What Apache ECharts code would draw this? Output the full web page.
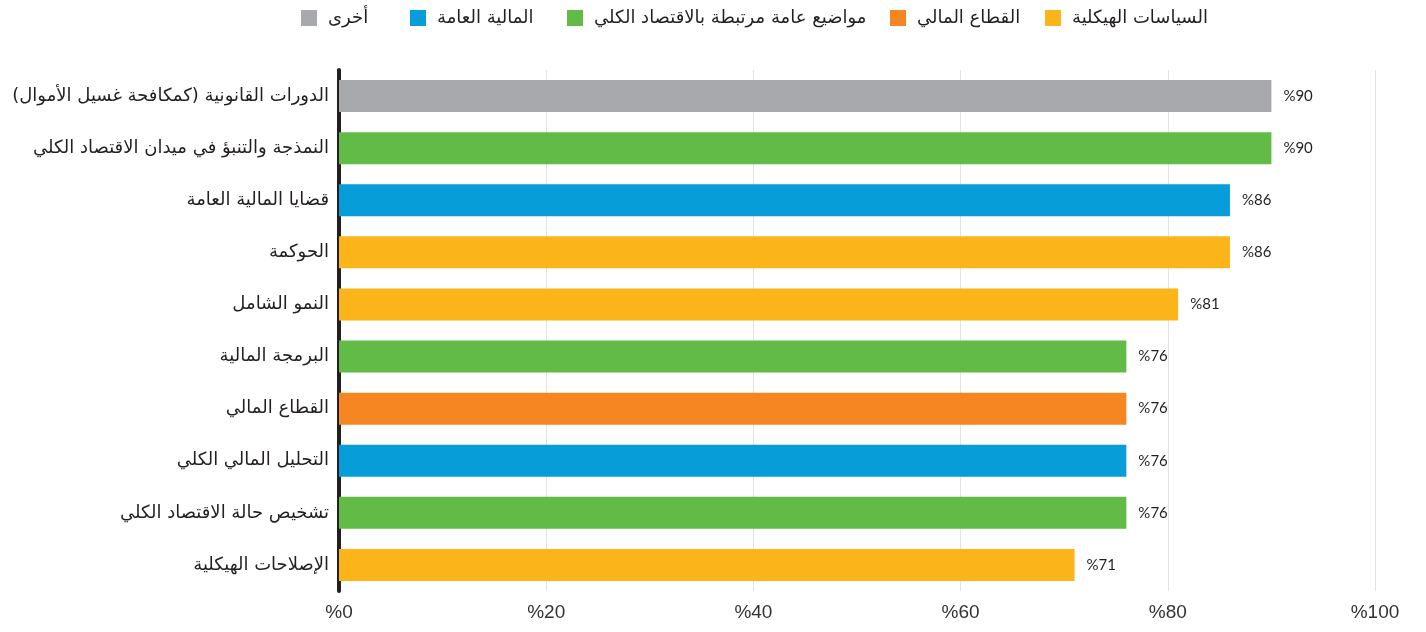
<!DOCTYPE html>
<html>
<head>
<meta charset="utf-8">
<script src="https://cdn.jsdelivr.net/npm/echarts@6/dist/echarts.min.js"></script>
<style>
  html, body { margin: 0; padding: 0; background: #fff; }
  #chart { width: 1426px; height: 632px; }
</style>
</head>
<body>
<div id="chart"></div>
<script>
// categories, top to bottom
var topics = [
  'الدورات القانونية (كمكافحة غسيل الأموال)',
  'النمذجة والتنبؤ في ميدان الاقتصاد الكلي',
  'قضايا المالية العامة',
  'الحوكمة',
  'النمو الشامل',
  'البرمجة المالية',
  'القطاع المالي',
  'التحليل المالي الكلي',
  'تشخيص حالة الاقتصاد الكلي',
  'الإصلاحات الهيكلية'
];
var shares = [90, 90, 86, 86, 81, 76, 76, 76, 76, 71];
// group of each topic
var groupOf = [4, 2, 3, 0, 0, 2, 1, 3, 2, 0];

var groups = ['السياسات الهيكلية', 'القطاع المالي', 'مواضيع عامة مرتبطة بالاقتصاد الكلي', 'المالية العامة', 'أخرى'];
var groupColors = ['#FBB41A', '#F58621', '#62BB46', '#069DD9', '#A7A9AC'];
// left edge of each legend entry (same order as groups)
var legendLeft = [1040, 885, 562, 405, 296];

var xTicks = [0, 20, 40, 60, 80, 100];

var myChart = echarts.init(document.getElementById('chart'));

var series = groups.map(function (g, gi) {
  return {
    name: g,
    type: 'bar',
    stack: 'all',
    barWidth: 32,
    itemStyle: { color: groupColors[gi] },
    label: {
      show: true,
      position: 'right',
      distance: 12,
      color: '#231f20',
      fontSize: 15,
      fontFamily: 'Lato',
      formatter: function (p) { return '%' + p.value; }
    },
    data: shares.map(function (v, i) { return groupOf[i] === gi ? v : null; })
  };
});

// one legend per entry so the uneven spacing can be kept
var legends = groups.map(function (g, gi) {
  return {
    data: [g],
    top: 4,
    left: legendLeft[gi],
    itemWidth: 16,
    itemHeight: 16,
    icon: 'rect',
    textStyle: { fontSize: 18, color: '#231f20', fontFamily: 'DejaVu Sans', padding: [0, 0, 0, 6] }
  };
});

var option = {
  animation: false,
  legend: legends,
  grid: { left: 339, right: 51, top: 70, bottom: 41 },
  xAxis: {
    type: 'value',
    min: 0,
    max: 100,
    interval: 20,
    axisLine: { show: false },
    axisTick: { show: false },
    splitLine: { show: true, lineStyle: { color: '#e3e3e3', width: 1 } },
    axisLabel: {
      margin: 12,
      fontSize: 19,
      color: '#333',
      fontFamily: 'Liberation Sans',
      formatter: function (v) { return xTicks.indexOf(v) >= 0 ? '%' + v : ''; }
    }
  },
  yAxis: {
    type: 'category',
    inverse: true,
    data: topics,
    axisLine: { show: true, lineStyle: { color: '#231f20', width: 4 } },
    axisTick: { show: false },
    axisLabel: {
      margin: 10,
      fontSize: 18,
      color: '#231f20',
      fontFamily: 'DejaVu Sans',
      formatter: function (v) { return '\u200F' + v + '\u200F'; }
    }
  },
  series: series
};

myChart.setOption(option);
</script>
</body>
</html>
